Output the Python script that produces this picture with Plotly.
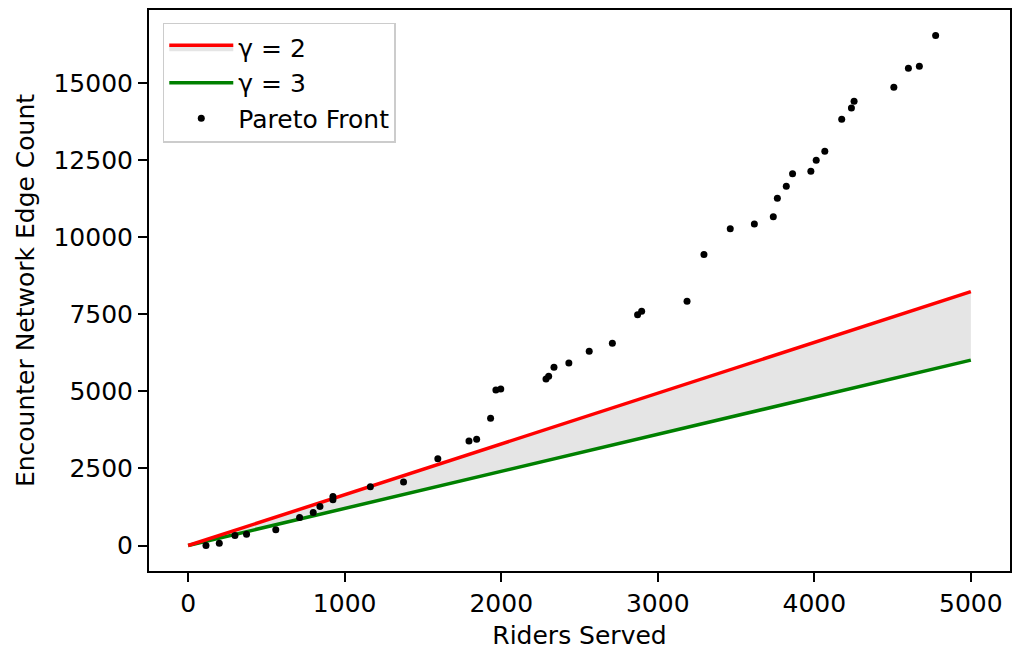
import plotly.graph_objects as go

# Pareto front points
riders = [114, 199, 299, 373, 560, 712, 799, 842, 925, 925, 1164, 1376, 1595,
          1794, 1843, 1932, 1966, 1997, 2286, 2303, 2337, 2432, 2562, 2710, 2871, 2897, 3187, 3295,
          3463, 3617, 3738, 3764, 3821, 3861, 3978, 4012, 4067, 4175, 4237, 4254, 4508, 4601, 4671, 4775]
edges = [0, 75, 325, 367, 510, 909, 1071, 1266, 1591, 1483, 1905, 2055, 2814,
         3387, 3442, 4123, 5043, 5076, 5400, 5487, 5779, 5920, 6299, 6558, 7478, 7597, 7922, 9437,
         10270, 10422, 10660, 11256, 11646, 12056, 12132, 12489, 12781, 13820, 14188, 14406, 14860, 15477, 15542, 16536]

# Reference lines
line_x = [0, 5000]
gamma2_y = [0, 8230]
gamma3_y = [0, 6010]

x_ticks = [0, 1000, 2000, 3000, 4000, 5000]
x_labels = ["0", "1000", "2000", "3000", "4000", "5000"]
y_ticks = [0, 2500, 5000, 7500, 10000, 12500, 15000]
y_labels = ["0", "2500", "5000", "7500", "10000", "12500", "15000"]

FONT = "DejaVu Sans"
FS = 25

fig = go.Figure()
fig.add_trace(go.Scatter(
    x=line_x, y=gamma3_y, mode="lines", name="γ = 3", legendgroup="b",
    line=dict(color="#008000", width=3.5), legendrank=2))
fig.add_trace(go.Scatter(
    x=line_x, y=gamma2_y, mode="lines", name="γ = 2", legendgroup="a",
    line=dict(color="#ff0000", width=3.5), fill="tonexty", fillcolor="#e5e5e5",
    legendrank=1))
fig.add_trace(go.Scatter(
    x=riders, y=edges, mode="markers", name="Pareto Front", legendgroup="c",
    marker=dict(color="black", size=7), legendrank=3))

# matplotlib-style 5% padding
xmin, xmax = min(line_x + riders), max(line_x + riders)
ymin, ymax = min(gamma3_y + edges), max(gamma2_y + edges)
xpad = 0.05 * (xmax - xmin)
ypad = 0.05 * (ymax - ymin)

axis_common = dict(
    showline=True, linecolor="black", linewidth=2, mirror=True,
    ticks="outside", ticklen=9, tickwidth=2, tickcolor="black",
    showgrid=False, zeroline=False,
    tickfont=dict(family=FONT, size=FS, color="black"),
)

fig.update_layout(
    width=1012, height=653,
    paper_bgcolor="white", plot_bgcolor="white",
    margin=dict(l=149, r=0, t=10, b=82),
    font=dict(family=FONT, size=FS, color="black"),
    xaxis=dict(range=[xmin - xpad, xmax + xpad], tickvals=x_ticks, ticktext=x_labels,
               title=dict(text="Riders Served", font=dict(family=FONT, size=FS), standoff=9),
               **axis_common),
    yaxis=dict(range=[ymin - ypad, ymax + ypad], tickvals=y_ticks, ticktext=y_labels,
               title=dict(text="Encounter Network Edge Count", font=dict(family=FONT, size=FS), standoff=12),
               **axis_common),
    legend=dict(x=0.016, y=0.977, xanchor="left", yanchor="top",
                bgcolor="white", bordercolor="#cccccc", borderwidth=1.5,
                font=dict(family=FONT, size=FS), tracegroupgap=5,
                traceorder="normal", itemwidth=64),
    showlegend=True,
)

fig.write_html("out.html")
